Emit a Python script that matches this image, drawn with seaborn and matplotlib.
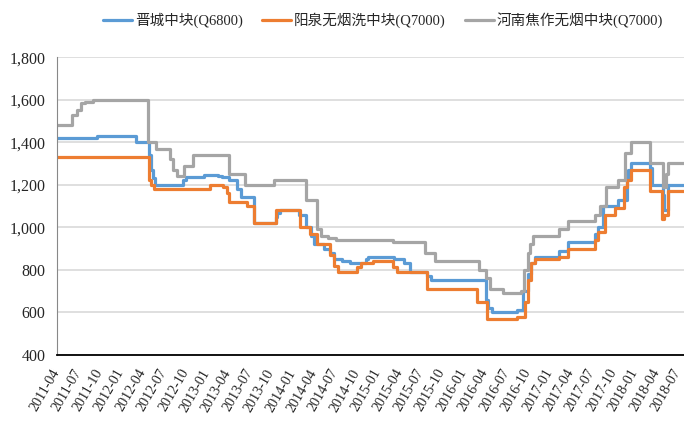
import pandas as pd
import matplotlib
matplotlib.use("Agg")
import matplotlib.pyplot as plt
from matplotlib.ticker import FuncFormatter
import seaborn as sns

# change points (date the price moved, new price)
jc_dates = ['2011-04-01', '2011-09-19', '2012-03-04', '2012-04-27', '2012-05-05', '2012-05-15',
            '2012-05-22', '2012-09-20', '2012-10-05', '2012-12-20', '2013-02-15', '2013-03-05',
            '2013-04-05', '2013-05-10', '2013-05-25', '2013-07-20', '2013-10-20', '2013-10-28',
            '2013-11-10', '2013-11-25', '2014-01-28', '2014-03-01', '2014-03-20', '2014-04-01',
            '2014-05-15', '2014-06-10', '2014-06-25', '2014-08-01', '2014-09-01', '2014-11-10',
            '2014-11-20', '2015-03-10', '2015-04-20', '2015-05-15', '2015-07-28', '2015-08-15',
            '2016-04-05', '2016-04-15', '2016-05-01', '2016-08-15', '2016-09-10', '2016-10-01',
            '2016-10-15', '2016-11-01', '2017-02-12', '2017-03-20', '2017-07-12', '2017-07-25',
            '2017-08-15', '2017-10-20', '2017-11-25', '2017-12-01', '2017-12-15', '2018-03-07',
            '2018-03-15', '2018-04-28', '2018-05-03', '2018-05-20', '2018-07-28']
jc_values = [1420, 1430, 1400, 1340, 1270, 1230,
             1200, 1220, 1235, 1245, 1240, 1235,
             1220, 1180, 1140, 1020, 1050, 1065,
             1080, 1080, 1060, 1000, 960, 920,
             900, 880, 850, 840, 830, 850,
             860, 850, 830, 790, 770, 750,
             660, 620, 600, 610, 700, 780,
             830, 860, 890, 930, 970, 1000,
             1100, 1130, 1220, 1270, 1300, 1280,
             1200, 1150, 1080, 1200, 1200]

yq_dates = ['2011-04-01', '2012-04-28', '2012-05-05', '2012-05-20', '2013-01-12', '2013-03-10',
            '2013-03-25', '2013-04-05', '2013-06-20', '2013-07-20', '2013-10-22', '2014-02-01',
            '2014-03-15', '2014-04-15', '2014-06-10', '2014-06-25', '2014-07-15', '2014-10-01',
            '2014-10-20', '2014-12-10', '2015-03-05', '2015-03-20', '2015-07-28', '2016-02-28',
            '2016-04-10', '2016-08-15', '2016-09-20', '2016-10-01', '2016-10-15', '2016-11-01',
            '2017-02-12', '2017-03-20', '2017-07-12', '2017-07-25', '2017-08-25', '2017-10-05',
            '2017-11-15', '2017-11-25', '2017-12-15', '2018-03-07', '2018-04-25', '2018-05-05',
            '2018-05-20', '2018-07-28']
yq_values = [1330, 1220, 1200, 1180, 1200, 1190,
             1160, 1120, 1100, 1020, 1080, 1000,
             970, 920, 870, 820, 790, 815,
             830, 840, 815, 790, 710, 650,
             570, 580, 650, 750, 830, 850,
             860, 900, 940, 980, 1060, 1090,
             1190, 1220, 1270, 1170, 1040, 1060,
             1170, 1170]

hn_dates = ['2011-04-01', '2011-06-05', '2011-06-25', '2011-07-15', '2011-08-01', '2011-09-01',
            '2012-04-22', '2012-05-28', '2012-07-28', '2012-08-10', '2012-08-25', '2012-09-25',
            '2012-11-01', '2013-04-05', '2013-06-10', '2013-10-15', '2014-02-25', '2014-04-15',
            '2014-05-01', '2014-06-01', '2014-07-05', '2015-03-05', '2015-07-20', '2015-09-01',
            '2016-03-05', '2016-04-05', '2016-04-20', '2016-06-15', '2016-08-30', '2016-09-15',
            '2016-10-01', '2016-10-10', '2016-10-20', '2017-02-12', '2017-03-20', '2017-07-15',
            '2017-08-05', '2017-08-28', '2017-10-20', '2017-11-20', '2017-12-15', '2018-03-07',
            '2018-04-28', '2018-05-12', '2018-05-20', '2018-07-28']
hn_values = [1480, 1530, 1550, 1585, 1590, 1600,
             1400, 1370, 1320, 1270, 1240, 1290,
             1340, 1250, 1200, 1220, 1130, 990,
             960, 950, 940, 930, 880, 840,
             800, 760, 710, 690, 700, 800,
             880, 920, 960, 990, 1030, 1060,
             1100, 1190, 1220, 1350, 1400, 1300,
             1190, 1250, 1300, 1300]

series_names = ['晋城中块(Q6800)', '阳泉无烟洗中块(Q7000)', '河南焦作无烟中块(Q7000)']
series_colors = ['#5B9BD5', '#ED7D31', '#A5A5A5']

frames = []
for name, d, v in zip(series_names, [jc_dates, yq_dates, hn_dates], [jc_values, yq_values, hn_values]):
    frames.append(pd.DataFrame({'date': pd.to_datetime(d), 'price': v, 'series': name}))
df = pd.concat(frames, ignore_index=True)

sns.set_style("white")
plt.rcParams['font.family'] = ['Liberation Serif', 'Noto Sans CJK SC']

fig = plt.figure(figsize=(6.84, 4.43), dpi=100)
ax = fig.add_axes([0.083, 0.199, 0.917, 0.672])

sns.lineplot(data=df, x='date', y='price', hue='series', hue_order=series_names,
             palette=series_colors, estimator=None, drawstyle='steps-post',
             linewidth=2.3, ax=ax)

ax.set_ylim(400, 1800)
ax.set_yticks(range(400, 1801, 200))
ax.yaxis.set_major_formatter(FuncFormatter(lambda v, p: f'{int(v):,}'))
ax.grid(axis='y', color='#d9d9d9', linewidth=1.2)
ax.set_axisbelow(True)

ax.set_xlim(pd.Timestamp('2011-04-01'), pd.Timestamp('2018-07-28'))
ticks = pd.date_range('2011-04-01', '2018-07-01', freq='3MS')
ax.set_xticks(ticks)
ax.set_xticklabels([t.strftime('%Y-%m') for t in ticks], rotation=60, ha='right',
                   va='center', rotation_mode='anchor', fontsize=10.2)
ax.tick_params(axis='x', direction='in', length=4, pad=11, color='black')
ax.tick_params(axis='y', direction='in', length=4, labelsize=11.5, pad=8, color='#888888')
ax.set_xlabel('')
ax.set_ylabel('')

for s in ['top', 'right']:
    ax.spines[s].set_visible(False)
ax.spines['left'].set_color('#888888')
ax.spines['bottom'].set_color('black')
ax.spines['bottom'].set_linewidth(1.3)

sns.move_legend(ax, 'center', bbox_to_anchor=(0.52, 1.125), ncol=3, frameon=False,
                title=None, fontsize=10.5, handlelength=2.0, handletextpad=0.2,
                columnspacing=1.3)

fig.savefig('out.png', dpi=100)
